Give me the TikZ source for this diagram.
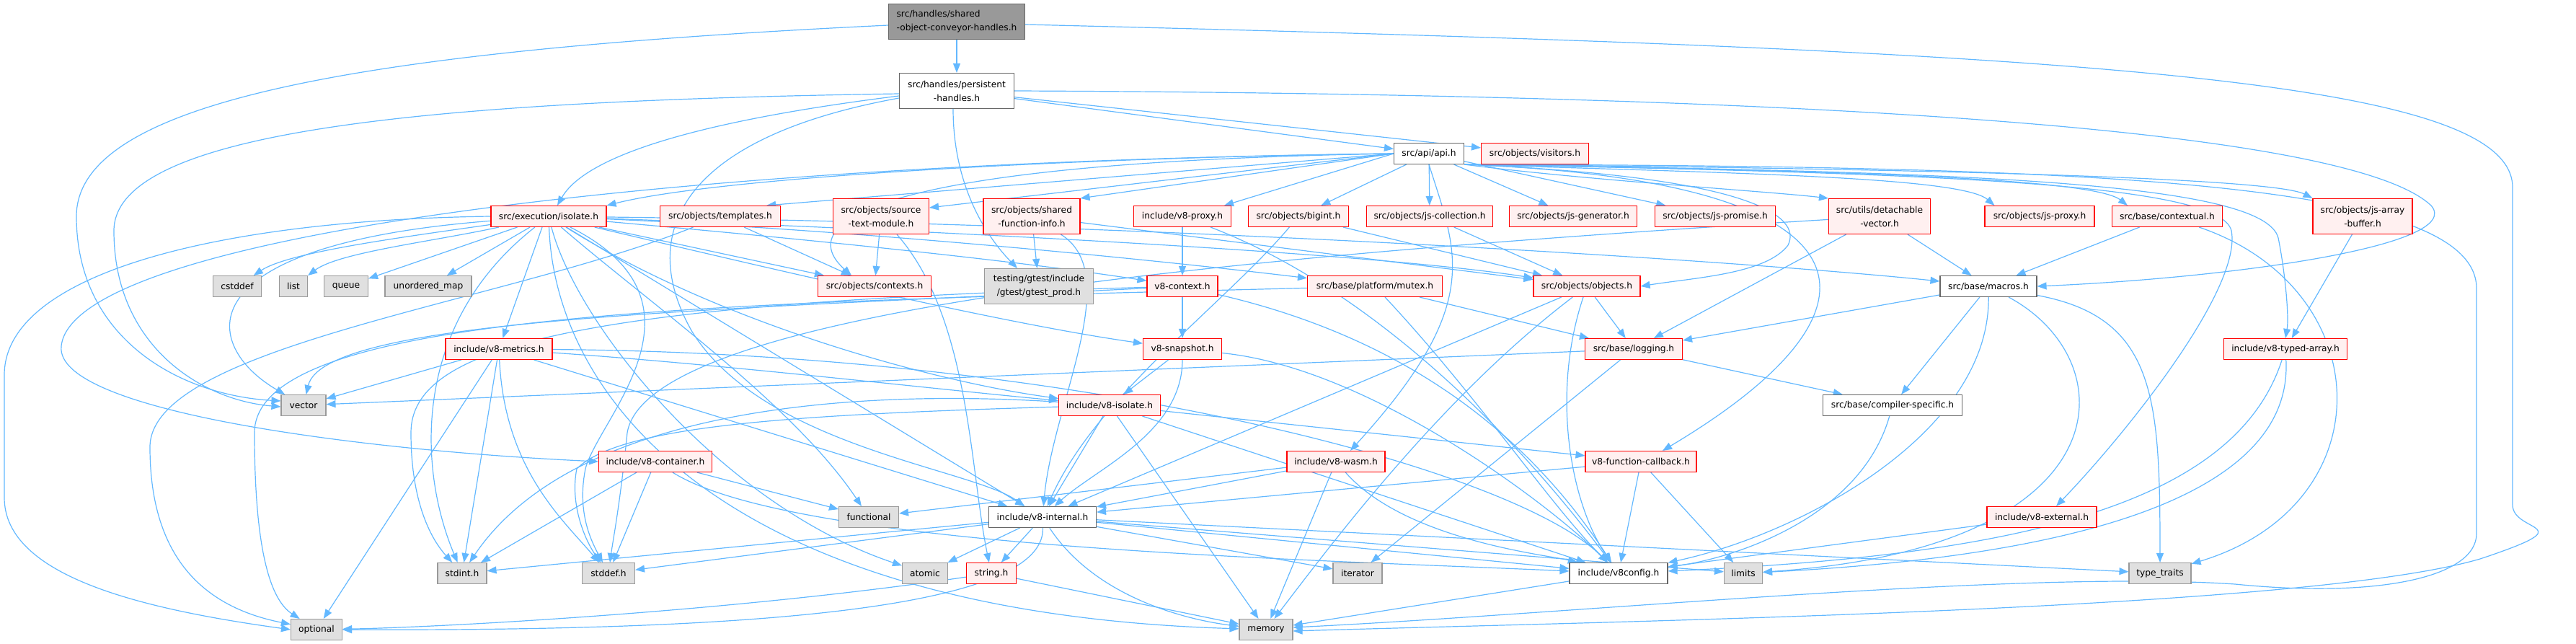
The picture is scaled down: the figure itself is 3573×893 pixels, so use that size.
\documentclass[tikz,border=0pt]{standalone}
\usepackage{fontspec}
\setmainfont{DejaVu Sans}
\usetikzlibrary{arrows.meta,calc,backgrounds}
\definecolor{edgec}{HTML}{63B8FF}
\definecolor{redb}{HTML}{FF0000}
\definecolor{redf}{HTML}{FFF0F0}
\definecolor{grayf}{HTML}{E0E0E0}
\definecolor{grayb}{HTML}{999999}
\definecolor{darkb}{HTML}{666666}
\definecolor{topf}{HTML}{999999}
\begin{document}
\begin{tikzpicture}[x=1pt,y=-1pt,
  base/.style={rectangle, inner sep=0pt, minimum height=29pt, font=\fontsize{12.25pt}{19pt}\selectfont, align=center, line width=1.1pt},
  redn/.style={base, draw=redb, fill=redf},
  grayn/.style={base, draw=grayb, fill=grayf},
  whiten/.style={base, draw=darkb, fill=white},
  topn/.style={base, draw=darkb, fill=topf, align=left},
  tall/.style={minimum height=49pt},
  edg/.style={draw=edgec, line width=1.2pt, -{Triangle[length=13pt,width=10pt]}}]
\useasboundingbox (0,0) rectangle (3573,893);
% nodes
\node[topn, tall, minimum width=189pt] (shared) at (1327,30) {src/handles/shared\\-object-conveyor-handles.h};
\node[whiten, tall, minimum width=159pt] (persist) at (1327,126) {src/handles/persistent\\-handles.h};
\node[whiten, minimum width=97pt] (api) at (1982,213) {src/api/api.h};
\node[redn, minimum width=149pt] (visitors) at (2129,213) {src/objects/visitors.h};
\node[redn, minimum width=160pt] (isolate) at (761,300) {src/execution/isolate.h};
\node[redn, minimum width=167pt] (templates) at (999,300) {src/objects/templates.h};
\node[redn, tall, minimum width=133pt] (stm) at (1222,300) {src/objects/source\\-text-module.h};
\node[redn, tall, minimum width=134pt] (sfi) at (1431,300) {src/objects/shared\\-function-info.h};
\node[redn, minimum width=135pt] (proxy) at (1640,300) {include/v8-proxy.h};
\node[redn, minimum width=139pt] (bigint) at (1801,300) {src/objects/bigint.h};
\node[redn, minimum width=175pt] (jscoll) at (1983,300) {src/objects/js-collection.h};
\node[redn, minimum width=177pt] (jsgen) at (2182,300) {src/objects/js-generator.h};
\node[redn, minimum width=167pt] (jsprom) at (2379,300) {src/objects/js-promise.h};
\node[redn, tall, minimum width=141pt] (detach) at (2607,300) {src/utils/detachable\\-vector.h};
\node[redn, minimum width=152pt] (jsproxy) at (2829,300) {src/objects/js-proxy.h};
\node[redn, minimum width=153pt] (contextual) at (3006,300) {src/base/contextual.h};
\node[redn, tall, minimum width=138pt] (jsab) at (3277,300) {src/objects/js-array\\-buffer.h};
\node[grayn, minimum width=67pt] (cstddef) at (329,397) {cstddef};
\node[grayn, minimum width=39pt] (list) at (407,397) {list};
\node[grayn, minimum width=61pt] (queue) at (480,397) {queue};
\node[grayn, minimum width=120pt] (umap) at (594,397) {unordered\_map};
\node[redn, minimum width=157pt] (contexts) at (1213,397) {src/objects/contexts.h};
\node[grayn, tall, minimum width=151pt] (gtest) at (1441,397) {testing/gtest/include\\/gtest/gtest\_prod.h};
\node[redn, minimum width=98pt] (v8ctx) at (1640,397) {v8-context.h};
\node[redn, minimum width=187pt] (mutex) at (1907,397) {src/base/platform/mutex.h};
\node[redn, minimum width=148pt] (objects) at (2201,397) {src/objects/objects.h};
\node[whiten, minimum width=134pt] (macros) at (2758,397) {src/base/macros.h};
\node[redn, minimum width=148pt] (metrics) at (692,484) {include/v8-metrics.h};
\node[redn, minimum width=109pt] (snapshot) at (1640,484) {v8-snapshot.h};
\node[redn, minimum width=135pt] (logging) at (2266,484) {src/base/logging.h};
\node[redn, minimum width=171pt] (typed) at (3170,484) {include/v8-typed-array.h};
\node[grayn, minimum width=62pt] (vector) at (421,562) {vector};
\node[redn, minimum width=141pt] (isolate8) at (1539,562) {include/v8-isolate.h};
\node[whiten, minimum width=193pt] (compspec) at (2625,562) {src/base/compiler-specific.h};
\node[redn, minimum width=157pt] (container) at (909,640) {include/v8-container.h};
\node[redn, minimum width=136pt] (wasm) at (1853,640) {include/v8-wasm.h};
\node[redn, minimum width=154pt] (fcb) at (2276,640) {v8-function-callback.h};
\node[grayn, minimum width=83pt] (functional) at (1205,717) {functional};
\node[whiten, minimum width=149pt] (internal) at (1446,717) {include/v8-internal.h};
\node[redn, minimum width=152pt] (external) at (2832,717) {include/v8-external.h};
\node[grayn, minimum width=68pt] (stdint) at (641,795) {stdint.h};
\node[grayn, minimum width=73pt] (stddef) at (844,795) {stddef.h};
\node[grayn, minimum width=63pt] (atomic) at (1283,795) {atomic};
\node[redn, minimum width=69pt] (stringh) at (1375,795) {string.h};
\node[grayn, minimum width=68pt] (iterator) at (1883,795) {iterator};
\node[whiten, minimum width=136pt] (v8config) at (2245,795) {include/v8config.h};
\node[grayn, minimum width=53pt] (limits) at (2418,795) {limits};
\node[grayn, minimum width=86pt] (ttraits) at (2996,795) {type\_traits};
\node[grayn, minimum width=71pt] (optional) at (439,873) {optional};
\node[grayn, minimum width=74pt] (memory) at (1756,873) {memory};
% edges
\begin{scope}[on background layer]
% shared
\draw[edg] (shared) -- (persist);
\draw[edg] ($(shared.west)+(0,5)$) .. controls (500,70) and (106,140) .. (106,300) .. controls (106,470) and (250,548) .. ($(vector.west)+(0,-6)$);
\draw[edg] ($(shared.east)+(0,4)$) .. controls (2900,70) and (3485,110) .. (3485,260) -- (3485,700) .. controls (3485,740) and (3590,725) .. (3440,775) .. controls (3200,845) and (2300,860) .. ($(memory.east)+(0,2)$);
% persist
\draw[edg] (persist) -- (api);
\draw[edg] (persist) -- (visitors);
\draw[edg] (persist.east) .. controls (2400,130) and (3250,170) .. (3372,285) .. controls (3420,340) and (3100,385) .. (macros.east);
\draw[edg] ($(persist.west)+(0,7)$) .. controls (950,170) and (810,220) .. ($(isolate.north)+(12,0)$);
\draw[edg] ($(persist.west)+(0,4)$) .. controls (600,140) and (158,180) .. (158,320) .. controls (158,480) and (280,555) .. ($(vector.west)+(0,2)$);
\draw[edg] ($(persist.west)+(0,10)$) .. controls (950,190) and (880,320) .. (960,460) .. controls (1060,620) and (1350,650) .. ($(internal.north)+(-25,0)$);
\draw[edg] ($(persist.south)+(-5,0)$) .. controls (1322,260) and (1370,330) .. ($(gtest.north)+(-30,0)$);
% api
\draw[edg] (api.west) .. controls (1500,218) and (1000,245) .. (isolate.north east);
\draw[edg] (api.west) -- ($(templates.north east)+(-20,0)$);
\draw[edg] (api.west) -- ($(stm.east)+(0,-12)$);
\draw[edg] (api.west) -- (sfi.north east);
\draw[edg] (api.west) -- ($(proxy.north east)+(-10,0)$);
\draw[edg] (api.west) .. controls (1200,225) and (1100,310) .. ($(contexts.north)+(-32,0)$);
\draw[edg] (api) -- (bigint);
\draw[edg] (api) -- (jscoll);
\draw[edg] (api) -- (jsgen);
\draw[edg] (api) -- (jsprom);
\draw[edg] (api.south east) .. controls (2200,250) and (2450,265) .. (detach.north west);
\draw[edg] (api.south east) .. controls (2400,240) and (2720,245) .. ($(jsproxy.north west)+(14,0)$);
\draw[edg] (api.south east) .. controls (2500,236) and (2900,245) .. ($(contextual.north west)+(22,0)$);
\draw[edg] (api.south east) .. controls (2600,233) and (3150,245) .. (jsab.north west);
\draw[edg] (api.south east) .. controls (2700,238) and (3140,250) .. (3160,330) .. controls (3170,380) and (3175,440) .. (typed.north);
\draw[edg] (api.south east) .. controls (2700,240) and (3080,255) .. (3095,320) .. controls (3110,400) and (2950,600) .. ($(external.north)+(20,0)$);
\draw[edg] (api.south east) .. controls (2900,230) and (3435,250) .. (3435,400) -- (3435,740) .. controls (3435,800) and (3300,830) .. (3100,810) .. controls (2800,790) and (2200,850) .. ($(memory.east)+(0,-3)$);
\draw[edg] (api.south east) .. controls (2600,250) and (2650,420) .. ($(fcb.north)+(30,0)$);
\draw[edg] (api.south) .. controls (2020,350) and (2060,420) .. ($(wasm.north)+(20,0)$);
\draw[edg] (api.south east) .. controls (2430,245) and (2500,300) .. (2480,340) .. controls (2450,380) and (2350,385) .. (objects.east);
\draw[edg] (api.west) .. controls (900,225) and (100,330) .. (85,480) .. controls (75,570) and (500,625) .. (container.west);
% isolate
\draw[edg] (isolate) .. controls (550,330) and (400,350) .. (cstddef);
\draw[edg] (isolate) .. controls (600,335) and (470,350) .. (list);
\draw[edg] (isolate) -- (queue);
\draw[edg] (isolate) -- (umap);
\draw[edg] ($(isolate.south)+(-9,0)$) -- (metrics);
\draw[edg] (isolate.west) .. controls (300,305) and (6,380) .. (6,520) -- (6,690) .. controls (6,800) and (200,845) .. (optional.west);
\draw[edg] (isolate) .. controls (250,340) and (280,480) .. (vector);
\draw[edg] (isolate) -- (contexts);
\draw[edg] (isolate) .. controls (1100,330) and (1400,360) .. (v8ctx);
\draw[edg] (isolate) .. controls (1200,320) and (1600,360) .. (mutex);
\draw[edg] (isolate) .. controls (1600,310) and (2400,360) .. (macros);
\draw[edg] (isolate) .. controls (1300,320) and (1900,350) .. (objects);
\draw[edg] (isolate) .. controls (1000,450) and (1300,530) .. (isolate8);
\draw[edg] (isolate) .. controls (1100,380) and (1400,450) .. (snapshot);
\draw[edg] (isolate) -- (internal);
\draw[edg] (isolate) .. controls (900,420) and (1100,560) .. (functional);
\draw[edg] (isolate) .. controls (800,450) and (1000,700) .. (atomic);
\draw[edg] (isolate) .. controls (770,550) and (1000,850) .. (memory);
\draw[edg] (isolate) .. controls (570,450) and (580,650) .. (stdint);
\draw[edg] (isolate) .. controls (1000,420) and (830,580) .. (812,650) .. controls (800,710) and (820,750) .. (stddef);
% metrics
\draw[edg] (metrics) -- (vector);
\draw[edg] (metrics) -- (optional);
\draw[edg] (metrics) -- (stdint);
\draw[edg] (metrics) .. controls (700,650) and (780,720) .. (stddef);
\draw[edg] (metrics) .. controls (1000,505) and (1300,540) .. (isolate8);
\draw[edg] (metrics) -- (internal);
\draw[edg] (metrics) .. controls (1500,490) and (2100,650) .. (v8config);
% snapshot
\draw[edg] (snapshot) -- (isolate8);
\draw[edg] (snapshot) .. controls (1640,600) and (1520,650) .. (internal);
\draw[edg] (snapshot) .. controls (1900,510) and (2150,700) .. (v8config);
% v8-context
\draw[edg] (v8ctx) -- (snapshot);
\draw[edg] (v8ctx) .. controls (1000,430) and (450,440) .. (vector);
\draw[edg] (v8ctx) .. controls (800,420) and (570,480) .. (570,600) .. controls (570,700) and (600,750) .. (stdint);
\draw[edg] (v8ctx) .. controls (2000,480) and (2150,650) .. (v8config);
% v8-isolate
\draw[edg] (isolate8) -- (internal);
\draw[edg] (isolate8) -- (memory);
\draw[edg] (isolate8) -- (fcb);
\draw[edg] (isolate8) -- (v8config);
\draw[edg] (isolate8) .. controls (1100,575) and (860,590) .. (800,650) .. controls (790,700) and (812,750) .. (stddef);
\draw[edg] (isolate8) .. controls (1200,540) and (800,560) .. (stdint);
% container
\draw[edg] (container) -- (functional);
\draw[edg] (container) -- (stdint);
\draw[edg] (container) -- (stddef);
\draw[edg] (container) .. controls (1100,760) and (1800,775) .. (v8config);
% wasm
\draw[edg] (wasm) -- (functional);
\draw[edg] (wasm) -- (internal);
\draw[edg] (wasm) -- (memory);
\draw[edg] (wasm) .. controls (1950,750) and (2150,770) .. (v8config);
% function callback
\draw[edg] (fcb) -- (internal);
\draw[edg] (fcb) -- (v8config);
\draw[edg] (fcb) -- (limits);
% internal
\draw[edg] (internal) -- (stdint);
\draw[edg] (internal) -- (stddef);
\draw[edg] (internal) -- (atomic);
\draw[edg] (internal) -- (stringh);
\draw[edg] (internal) .. controls (1450,850) and (1000,875) .. (optional);
\draw[edg] (internal) .. controls (1520,830) and (1650,860) .. (memory);
\draw[edg] (internal) -- (iterator);
\draw[edg] (internal) -- (v8config);
\draw[edg] (internal) -- (limits);
\draw[edg] (internal) -- (ttraits);
% string.h
\draw[edg] (stringh) .. controls (1000,850) and (600,870) .. (optional);
\draw[edg] (stringh) -- (memory);
% v8config
\draw[edg] (v8config) -- (memory);
% logging
\draw[edg] (logging) -- (vector);
\draw[edg] (logging) -- (compspec);
\draw[edg] (logging) -- (iterator);
% compiler-specific
\draw[edg] (compspec) .. controls (2580,720) and (2400,775) .. (v8config);
% macros
\draw[edg] (macros) -- (logging);
\draw[edg] (macros) -- (compspec);
\draw[edg] (macros) .. controls (2760,600) and (2500,740) .. (v8config);
\draw[edg] (macros) .. controls (2950,500) and (2950,760) .. (limits);
\draw[edg] (macros) .. controls (2990,440) and (2996,550) .. (ttraits);
% mutex
\draw[edg] (mutex) -- (logging);
\draw[edg] (mutex) .. controls (2050,550) and (2150,700) .. (v8config);
\draw[edg] (mutex) .. controls (1000,420) and (353,430) .. (353,600) .. controls (353,780) and (380,835) .. (optional);
% objects
\draw[edg] (objects) -- (logging);
\draw[edg] (objects) .. controls (2000,550) and (1850,750) .. (memory);
\draw[edg] (objects) -- (internal);
\draw[edg] (objects) .. controls (2150,550) and (2180,700) .. (v8config);
% shared-function-info
\draw[edg] (sfi) -- (gtest);
\draw[edg] (sfi) -- (objects);
\draw[edg] (sfi) .. controls (1560,380) and (1460,560) .. (internal);
% templates
\draw[edg] (templates) -- (contexts);
\draw[edg] (templates) .. controls (700,420) and (208,480) .. (208,620) .. controls (208,790) and (300,845) .. (optional);
% source-text-module
\draw[edg] (stm) -- (contexts);
\draw[edg] (stm) .. controls (1345,440) and (1345,650) .. (stringh);
% proxy
\draw[edg] (proxy) -- (v8ctx);
\draw[edg] (proxy) .. controls (1900,400) and (2100,600) .. (v8config);
% bigint
\draw[edg] (bigint) -- (objects);
\draw[edg] (bigint) .. controls (1700,420) and (1520,550) .. (internal);
% js-collection
\draw[edg] (jscoll) -- (objects);
% detachable-vector
\draw[edg] (detach) .. controls (1800,350) and (900,420) .. (870,600) .. controls (860,700) and (850,750) .. (stddef);
\draw[edg] (detach) -- (logging);
\draw[edg] (detach) -- (macros);
% contextual
\draw[edg] (contextual) -- (macros);
\draw[edg] (contextual) .. controls (3300,400) and (3310,700) .. (ttraits);
% js-array-buffer
\draw[edg] (jsab) -- (typed);
% typed array
\draw[edg] (typed) .. controls (3100,700) and (2800,770) .. (v8config);
\draw[edg] (typed) .. controls (3176,600) and (3100,760) .. (limits);
% external
\draw[edg] (external) -- (v8config);
\end{scope}
\end{tikzpicture}
\end{document}
